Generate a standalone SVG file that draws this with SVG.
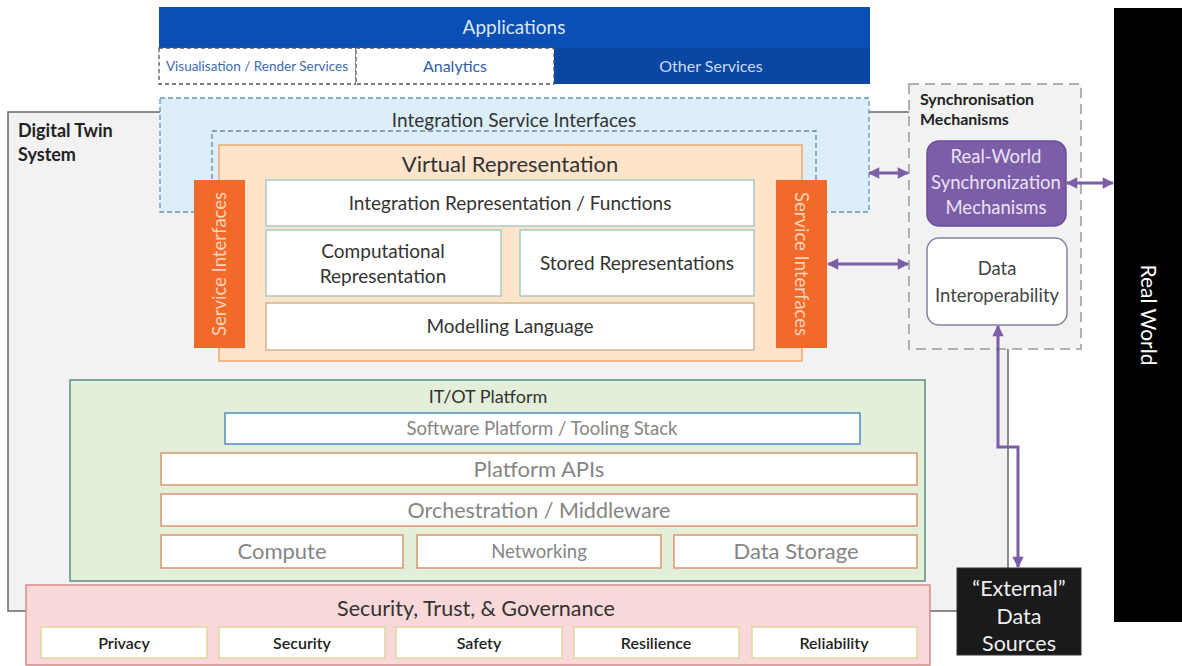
<svg xmlns="http://www.w3.org/2000/svg" width="1182" height="666" viewBox="0 0 1182 666">
<style>
text{font-family:Lato,"Open Sans","Liberation Sans",sans-serif;text-anchor:middle;fill:#333}
.wb{fill:#fff;stroke:#a9c8c8;stroke-width:1.5}
.pb{fill:#fff;stroke:#d9976b;stroke-width:1.5}
.gb{fill:#fff;stroke:#dcd89c;stroke-width:1.5}
.gt{font-size:16px;fill:#222;font-weight:600}
.grey{fill:#858585}
.conn{fill:none;stroke:#7b5ea7;stroke-width:3;marker-start:url(#ah);marker-end:url(#ah)}
</style>
<defs>
<marker id="ah" viewBox="0 0 10 10" refX="9" refY="5" markerWidth="4" markerHeight="3.8" orient="auto-start-reverse" markerUnits="strokeWidth">
<path d="M0,0 L10,5 L0,10 z" fill="#7b5ea7"/>
</marker>
</defs>
<rect width="1182" height="666" fill="#fff"/>

<g id="real-world">
<rect x="1114" y="8" width="68" height="614" fill="#000"/>
<text transform="translate(1141,315) rotate(90)" style="fill:#fff;font-size:21px">Real World</text>
</g>

<g id="digital-twin-system">
<rect x="8" y="112" width="1000" height="499" fill="#f2f2f2" stroke="#666" stroke-width="1.5"/>
<text x="18" y="137" style="text-anchor:start;font-weight:bold;font-size:18px;fill:#222">Digital Twin</text>
<text x="18" y="161" style="text-anchor:start;font-weight:bold;font-size:18px;fill:#222">System</text>
</g>

<g id="applications">
<rect x="159" y="7" width="711" height="77" fill="#0a4fb3"/>
<rect x="554" y="48" width="316" height="36" fill="#0a47a2"/>
<text x="514" y="34" style="fill:#dce8f7;font-size:19px">Applications</text>
<rect x="159" y="48" width="197" height="36" fill="#fff" stroke="#555" stroke-width="1.3" stroke-dasharray="4,3"/>
<rect x="356" y="48" width="198" height="36" fill="#fff" stroke="#555" stroke-width="1.3" stroke-dasharray="4,3"/>
<text x="257" y="71" style="fill:#3b6cb0;font-size:13.5px">Visualisation / Render Services</text>
<text x="455" y="72" style="fill:#2f5fa8;font-size:16px">Analytics</text>
<text x="711" y="72" style="fill:#c9d9f1;font-size:16px">Other Services</text>
</g>

<g id="integration-service-interfaces">
<rect x="160" y="98" width="709" height="114" fill="#dbeefa" stroke="#6b93bd" stroke-width="1.3" stroke-dasharray="5,3"/>
<text x="514" y="127" style="font-size:19px">Integration Service Interfaces</text>
<rect x="212" y="131" width="604" height="60" fill="none" stroke="#6b86a3" stroke-width="1.3" stroke-dasharray="5,3"/>
</g>

<g id="virtual-representation">
<rect x="219" y="145" width="583" height="216" fill="#fde4cb" stroke="#f0a86e" stroke-width="1.5"/>
<text x="510" y="172" style="font-size:22px">Virtual Representation</text>
</g>

<g id="integration-representation">
<rect class="wb" x="266" y="180" width="488" height="46"/>
<text x="510" y="210" style="font-size:19px">Integration Representation / Functions</text>
</g>
<g id="computational-representation">
<rect class="wb" x="266" y="230" width="235" height="66"/>
<text x="383" y="258" style="font-size:19px">Computational</text>
<text x="383" y="283" style="font-size:19px">Representation</text>
</g>
<g id="stored-representations">
<rect class="wb" x="520" y="230" width="234" height="66"/>
<text x="637" y="270" style="font-size:19px">Stored Representations</text>
</g>
<g id="modelling-language">
<rect x="266" y="303" width="488" height="47" fill="#fff" stroke="#cdb494" stroke-width="1.5"/>
<text x="510" y="333" style="font-size:19px">Modelling Language</text>
</g>

<g id="service-interfaces-left">
<rect x="194" y="180" width="51" height="168" fill="#f26a2a"/>
<text transform="translate(226,264) rotate(-90)" style="fill:#fbd3bb;font-size:18.5px">Service Interfaces</text>
</g>
<g id="service-interfaces-right">
<rect x="776" y="180" width="51" height="168" fill="#f26a2a"/>
<text transform="translate(795,264) rotate(90)" style="fill:#fbd3bb;font-size:18.5px">Service Interfaces</text>
</g>

<g id="synchronisation-mechanisms">
<rect x="909" y="84" width="172" height="265" fill="#f2f2f2" stroke="#999" stroke-width="1.5" stroke-dasharray="10,6"/>
<text x="920" y="105" style="text-anchor:start;font-weight:bold;font-size:16px;fill:#222">Synchronisation</text>
<text x="920" y="125" style="text-anchor:start;font-weight:bold;font-size:16px;fill:#222">Mechanisms</text>
</g>
<g id="real-world-sync">
<rect x="927" y="141" width="139" height="85" rx="12" fill="#7b5ea7" stroke="#6a4f96" stroke-width="1.5"/>
<text x="996" y="163" style="fill:#ebe2f5;font-size:18.5px">Real-World</text>
<text x="996" y="189" style="fill:#ebe2f5;font-size:18.5px">Synchronization</text>
<text x="996" y="214" style="fill:#ebe2f5;font-size:18.5px">Mechanisms</text>
</g>
<g id="data-interoperability">
<rect x="927" y="238" width="140" height="87" rx="12" fill="#fff" stroke="#8c80a0" stroke-width="1.5"/>
<text x="997" y="275" style="fill:#444;font-size:18.5px">Data</text>
<text x="997" y="302" style="fill:#444;font-size:18.5px">Interoperability</text>
</g>

<g id="it-ot-platform">
<rect x="70" y="380" width="855" height="201" fill="#e3efda" stroke="#5a8f80" stroke-width="1.5"/>
<text x="488" y="403" style="font-size:18px">IT/OT Platform</text>
</g>
<g id="software-platform">
<rect x="225" y="413" width="635" height="31" fill="#fff" stroke="#4f8fc0" stroke-width="1.5"/>
<text x="542" y="435" class="grey" style="font-size:18.5px">Software Platform / Tooling Stack</text>
</g>
<g id="platform-apis">
<rect class="pb" x="161" y="453" width="756" height="32"/>
<text x="539" y="477" class="grey" style="font-size:22px">Platform APIs</text>
</g>
<g id="orchestration">
<rect class="pb" x="161" y="494" width="756" height="32"/>
<text x="539" y="518" class="grey" style="font-size:21.5px">Orchestration / Middleware</text>
</g>
<g id="compute">
<rect class="pb" x="161" y="535" width="242" height="33"/>
<text x="282" y="559" class="grey" style="font-size:22px">Compute</text>
</g>
<g id="networking">
<rect class="pb" x="417" y="535" width="244" height="33"/>
<text x="539" y="558" class="grey" style="font-size:18.5px">Networking</text>
</g>
<g id="data-storage">
<rect class="pb" x="674" y="535" width="243" height="33"/>
<text x="796" y="559" class="grey" style="font-size:22px">Data Storage</text>
</g>

<g id="security-trust-governance">
<rect x="26" y="585" width="904" height="80" fill="#f8d8d8" stroke="#d98a8a" stroke-width="1.5"/>
<text x="476" y="616" style="font-size:21.5px">Security, Trust, &amp; Governance</text>
</g>
<g id="privacy"><rect class="gb" x="41" y="627" width="166" height="31"/><text class="gt" x="124" y="649">Privacy</text></g>
<g id="security"><rect class="gb" x="219" y="627" width="166" height="31"/><text class="gt" x="302" y="649">Security</text></g>
<g id="safety"><rect class="gb" x="396" y="627" width="166" height="31"/><text class="gt" x="479" y="649">Safety</text></g>
<g id="resilience"><rect class="gb" x="574" y="627" width="165" height="31"/><text class="gt" x="656" y="649">Resilience</text></g>
<g id="reliability"><rect class="gb" x="752" y="627" width="165" height="31"/><text class="gt" x="834" y="649">Reliability</text></g>

<g id="external-data-sources">
<rect x="957" y="568" width="124" height="87" fill="#1a1a1a" stroke="#333" stroke-width="1"/>
<text x="1019" y="596" style="fill:#eee;font-size:21.5px">“External”</text>
<text x="1019" y="624" style="fill:#eee;font-size:21.5px">Data</text>
<text x="1019" y="651" style="fill:#eee;font-size:21.5px">Sources</text>
</g>

<g id="connectors">
<path class="conn" d="M869,173 H908"/>
<path class="conn" d="M828,264 H908"/>
<path class="conn" d="M1067,183 H1113"/>
<path class="conn" d="M998,326 V447 H1018 V567"/>
</g>
</svg>
